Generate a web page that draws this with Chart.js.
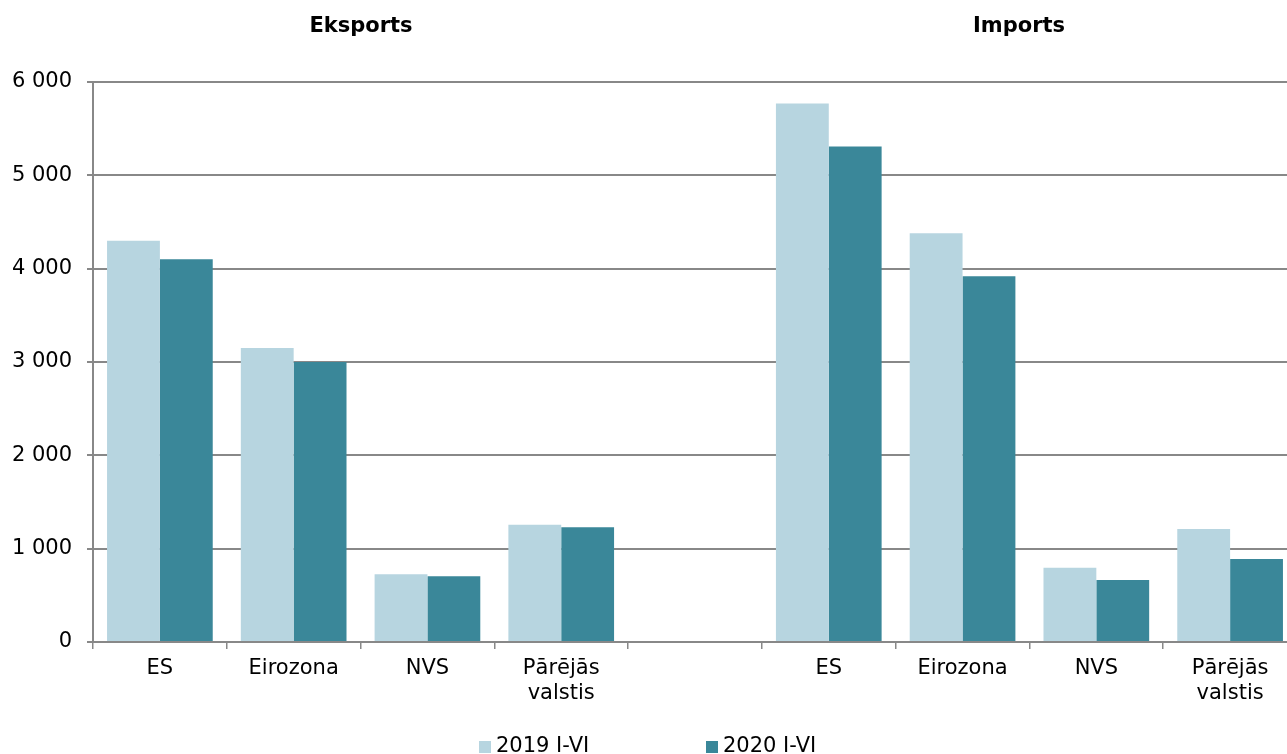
<!DOCTYPE html>
<html>
<head>
<meta charset="utf-8">
<script src="https://cdn.jsdelivr.net/npm/chart.js@4/dist/chart.umd.min.js"></script>
<style>
    html, body { margin: 0; padding: 0; overflow: hidden; background: #fff; }
    #wrap { position: relative; width: 1300px; height: 754px; }
    #legend { position: absolute; top: 733px; left: 0; font: 21px "DejaVu Sans", sans-serif; line-height: 24px; color: #000; }
    .item { position: absolute; white-space: nowrap; }
    .swatch { display: inline-block; width: 12px; height: 12px; margin-right: 5px; vertical-align: -1px; }
</style>
</head>
<body>
<div id="wrap">
    <canvas id="chart" width="1300" height="754"></canvas>
    <div id="legend"></div>
</div>
<script>
const categories = ['ES', 'Eirozona', 'NVS', ['Pārējās', 'valstis'], '', 'ES', 'Eirozona', 'NVS', ['Pārējās', 'valstis']];
const values2019 = [4300, 3150, 725, 1255, null, 5770, 4380, 795, 1210];
const values2020 = [4100, 3000, 705, 1230, null, 5310, 3920, 665, 890];
const seriesLabels = ['2019 I-VI', '2020 I-VI'];
const seriesColors = ['#b7d5e0', '#3a8799'];
const groupTitles = ['Eksports', 'Imports'];
const yTicks = [0, 1000, 2000, 3000, 4000, 5000, 6000];

const FONT = '"DejaVu Sans", Verdana, sans-serif';
const gridColor = '#888888';

// group titles above the plot
const titlePlugin = {
    id: 'groupTitles',
    afterDraw(chart) {
        const ctx = chart.ctx;
        const pos = [361, 1019];
        ctx.save();
        ctx.font = 'bold 21px ' + FONT;
        ctx.fillStyle = '#000';
        ctx.textAlign = 'center';
        ctx.textBaseline = 'middle';
        groupTitles.forEach((t, i) => ctx.fillText(t, pos[i], 27));
        ctx.restore();
    }
};

const fmt = v => String(v).replace(/\B(?=(\d{3})+(?!\d))/g, ' ');

new Chart(document.getElementById('chart'), {
    type: 'bar',
    data: {
        labels: categories,
        datasets: [
            { label: seriesLabels[0], data: values2019, backgroundColor: seriesColors[0] },
            { label: seriesLabels[1], data: values2020, backgroundColor: seriesColors[1] }
        ]
    },
    options: {
        responsive: false,
        animation: false,
        devicePixelRatio: 1,
        categoryPercentage: 0.79,
        barPercentage: 1.0,
        layout: { padding: { top: 82, right: 3, left: 0, bottom: 0 } },
        plugins: {
            legend: { display: false },
            tooltip: { enabled: false }
        },
        scales: {
            x: {
                grid: { drawOnChartArea: false, offset: true, tickLength: 7, color: gridColor, lineWidth: 1.5 },
                border: { color: gridColor, width: 2 },
                ticks: { color: '#000', font: { family: FONT, size: 21, lineHeight: 1.2 }, padding: 7, maxRotation: 0, autoSkip: false },
                afterFit(scale) { scale.height = 112; }
            },
            y: {
                min: 0,
                max: 6000,
                afterBuildTicks(scale) { scale.ticks = yTicks.map(v => ({ value: v })); },
                grid: { color: gridColor, lineWidth: 2, tickLength: 6 },
                border: { color: gridColor, width: 2 },
                ticks: { color: '#000', font: { family: FONT, size: 21 }, padding: 15, callback: v => fmt(v) },
                afterFit(scale) { scale.width = 93; }
            }
        }
    },
    plugins: [titlePlugin]
});

// legend under the chart
const legendPos = [479, 706];
const legend = document.getElementById('legend');
seriesLabels.forEach((lab, i) => {
    const el = document.createElement('span');
    el.className = 'item';
    el.style.left = legendPos[i] + 'px';
    el.innerHTML = `<span class="swatch" style="background:${seriesColors[i]}"></span>${lab}`;
    legend.appendChild(el);
});
</script>
</body>
</html>
